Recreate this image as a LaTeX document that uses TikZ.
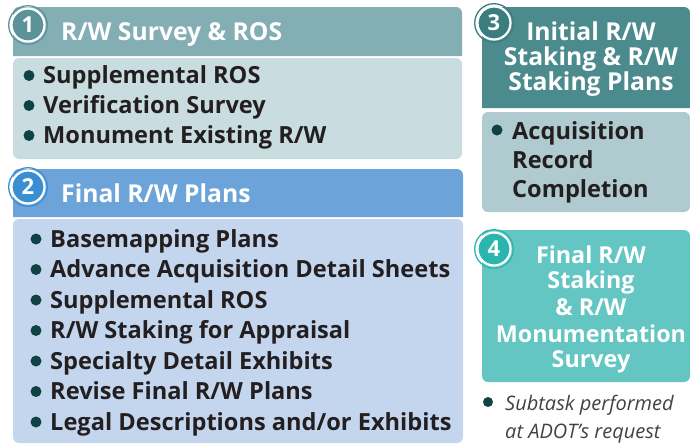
\documentclass[tikz,border=0pt]{standalone}
\usepackage{fontspec}
\setmainfont{Open Sans}
\definecolor{hdA}{HTML}{82AEB4}
\definecolor{bdA}{HTML}{C9DDE1}
\definecolor{ciA}{HTML}{5C9398}
\definecolor{hdB}{HTML}{6CA3D8}
\definecolor{bdB}{HTML}{C4D6EE}
\definecolor{ciB}{HTML}{3A8FD3}
\definecolor{hdC}{HTML}{4B8A8D}
\definecolor{bdC}{HTML}{AFCBD0}
\definecolor{ciC}{HTML}{3B7C7F}
\definecolor{bxD}{HTML}{64C6C2}
\definecolor{ciD}{HTML}{2BB5AF}
\definecolor{bul}{HTML}{0E4245}
\definecolor{txt}{HTML}{231F20}
\begin{document}
\begin{tikzpicture}[x=1pt,y=-1pt,
  item/.style={anchor=base west, inner sep=0, text=txt, font=\bfseries\fontsize{23.6}{23.6}\selectfont},
  ttl/.style={anchor=base west, inner sep=0, text=white, font=\bfseries\fontsize{24.7}{24.7}\selectfont},
  cttl/.style={anchor=base, inner sep=0, text=white, font=\bfseries\fontsize{24.7}{24.7}\selectfont},
  dttl/.style={anchor=base, inner sep=0, text=white, font=\bfseries\fontsize{23.3}{23.3}\selectfont},
  note/.style={anchor=base west, inner sep=0, text=txt!85, font=\itshape\fontsize{20}{20}\selectfont},
  dot/.style={circle, fill=bul, inner sep=0, minimum size=11},
  numc/.style={circle, fill=#1, draw=white, line width=2.2, minimum size=33, inner sep=0, text=white, font=\bfseries\fontsize{22}{22}\selectfont}]
\useasboundingbox (0,0) rectangle (690,445);
% box 1
\fill[bdA, rounded corners=6] (13,58) rectangle (462,159);
\fill[hdA] (13,56) [rounded corners=6] -- (13,7) -- (462,7) [sharp corners] -- (462,56) -- cycle;
% box 2
\fill[bdB, rounded corners=6] (13,219) rectangle (463,443);
\fill[hdB] (13,217) [rounded corners=6] -- (13,169) -- (463,169) [sharp corners] -- (463,217) -- cycle;
% box 3
\fill[bdC, rounded corners=6] (482,112) rectangle (690,212);
\fill[hdC] (482,108) [rounded corners=6] -- (482,7) -- (690,7) [sharp corners] -- (690,108) -- cycle;
% box 4
\fill[bxD, rounded corners=6] (482,230) rectangle (690,382);

% circles
\node[numc=ciA] (n1) at (28,25) {1};
\draw[ciA, line width=1.3] (n1.center) circle (19.3);
\node[numc=ciB] (n2) at (28,187) {2};
\draw[ciB, line width=1.3] (n2.center) circle (19.3);
\node[numc=ciC] (n3) at (494,23) {3};
\draw[ciC, line width=1.3] (n3.center) circle (19.3);
\node[numc=ciD] (n4) at (494,249) {4};
\draw[ciD, line width=1.3] (n4.center) circle (19.3);

% titles
\node[ttl] (t1) at (61,40) {R/W Survey \& ROS};
\node[ttl] (t2) at (61,202) {Final R/W Plans};
\node[cttl] (t3a) at (591,40) {Initial R/W};
\node[cttl] (t3b) at (591,65) {Staking \& R/W};
\node[cttl] (t3c) at (591,90) {Staking Plans};
\node[dttl] (t4a) at (591,263) {Final R/W};
\node[dttl] (t4b) at (591,288) {Staking};
\node[dttl] (t4c) at (591,315) {\& R/W};
\node[dttl] (t4d) at (591,342) {Monumentation};
\node[dttl] (t4e) at (591,367) {Survey};

% box 1 items
\foreach \t [count=\i] in {Supplemental ROS, Verification Survey, Monument Existing R/W}{
  \node[item] (a\i) at (43,{83.5+30*(\i-1)}) {\t};
  \node[dot] (da\i) at (29,{75.5+30*(\i-1)}) {};
}
% box 2 items
\foreach \t [count=\i] in {Basemapping Plans, Advance Acquisition Detail Sheets, Supplemental ROS, R/W Staking for Appraisal, Specialty Detail Exhibits, Revise Final R/W Plans, Legal Descriptions and/or Exhibits}{
  \node[item] (b\i) at (50,{247+30.5*(\i-1)}) {\t};
  \node[dot] (db\i) at (36,{239+30.5*(\i-1)}) {};
}
% box 3 items
\node[dot] (dc1) at (497,130) {};
\node[item] (c1) at (512,139) {Acquisition};
\node[item] (c2) at (512,168) {Record};
\node[item] (c3) at (512,197) {Completion};
% note
\node[dot, minimum size=10] (dn) at (488,402) {};
\node[note] (m1) at (505,410) {Subtask performed};
\node[note] (m2) at (505,438) {at ADOT's request};
\end{tikzpicture}
\end{document}
